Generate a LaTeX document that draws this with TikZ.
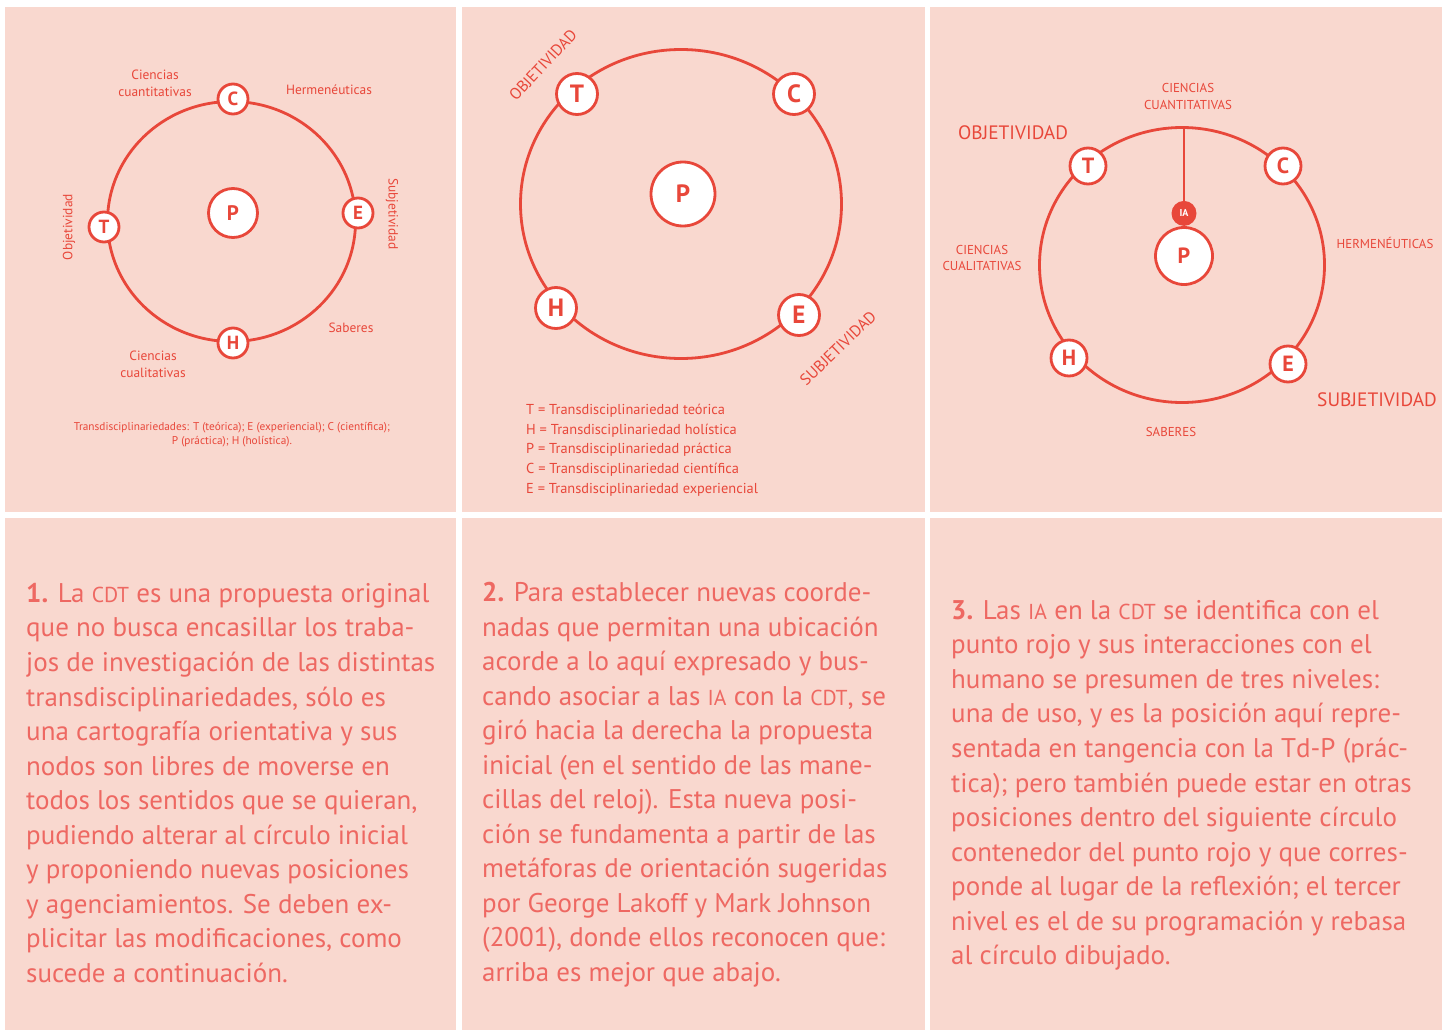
\documentclass[tikz,border=0pt]{standalone}
\usepackage{fontspec}
\setmainfont{PT Sans}
\usepackage{tikz}
\usetikzlibrary{shapes.geometric, positioning}
\definecolor{cdtred}{HTML}{E8473A}
\definecolor{cdttext}{HTML}{EE6862}
\definecolor{cdtbg}{HTML}{F9D8CF}
\newcommand\fs[2]{\fontsize{#1}{#2}\selectfont}
\newcommand\smcap[1]{\scalebox{0.8}{#1}}
\tikzset{
  panel/.style={fill=cdtbg, draw=none},
  aro/.style={ellipse, draw=cdtred, line width=2.8pt, inner sep=0pt},
  nodo/.style n args={2}{circle, draw=cdtred, line width=2.8pt, fill=white, text=cdtred,
    inner sep=0pt, minimum size=#1, font=\bfseries\fs{#2}{#2}},
  etiq/.style={text=cdtred, inner sep=0pt, align=center, font=\fs{#1}{1.25\dimexpr#1pt}},
  parrafo/.style={text=cdttext, inner sep=0pt, align=left, anchor=north west, font=\fs{27}{34.55}}
}

\begin{document}
\begin{tikzpicture}[x=1pt, y=-1pt]
\useasboundingbox[fill=white] (0,0) rectangle (1442,1030);
\foreach \xa/\xb in {5/456, 462/925, 930/1442}{
  \fill[panel] (\xa,7) rectangle (\xb,512);
  \fill[panel] (\xa,518) rectangle (\xb,1030);
}

\node[aro, minimum width=248, minimum height=240] (aro1) at (231.5,221.5) {};
\node[nodo={49}{21}] (p1) at (233,213) {P};
\node[nodo={30}{19}] (c1) at (233,99) {C};
\node[nodo={30}{19}] (e1) at (358,213) {E};
\node[nodo={30}{19}] (t1) at (104,227) {T};
\node[nodo={30}{19}] (h1) at (233,343) {H};
\node[etiq=13.4] (cuant1) at (155,83) {Ciencias\\cuantitativas};
\node[etiq=13.4] (herm1) at (329,90) {Hermenéuticas};
\node[etiq=13.4, rotate=90] (obj1) at (69,227) {Objetividad};
\node[etiq=13.4, rotate=-90] (subj1) at (392,214) {Subjetividad};
\node[etiq=13.4] (sab1) at (351,328) {Saberes};
\node[etiq=13.4] (cual1) at (153,364) {Ciencias\\cualitativas};
\node[etiq=11.3] (ley1) at (232,435) {Transdisciplinariedades: T (teórica); E (experiencial); C (científica);\\P (práctica); H (holística).};

\node[aro, minimum width=321, minimum height=309] (aro2) at (681,204) {};
\node[nodo={64}{25}] (p2) at (683,194) {P};
\node[nodo={41}{25}] (t2) at (577,94) {T};
\node[nodo={41}{25}] (c2) at (794,94) {C};
\node[nodo={41}{25}] (h2) at (556,308) {H};
\node[nodo={41}{25}] (e2) at (799,315) {E};
\node[etiq=16, rotate=47] (obj2) at (543,65) {OBJETIVIDAD};
\node[etiq=16, rotate=44] (subj2) at (838,348) {SUBJETIVIDAD};
\node[etiq=14.4, align=left, anchor=north west, font=\fs{14.4}{19.7}] (ley2) at (526,404)
  {T = Transdisciplinariedad teórica\\H = Transdisciplinariedad holística\\P = Transdisciplinariedad práctica\\
   C = Transdisciplinariedad científica\\E = Transdisciplinariedad experiencial};

\node[aro, minimum width=285, minimum height=275] (aro3) at (1182,265) {};
\node[nodo={57}{22}] (p3) at (1184,256) {P};
\node[circle, fill=cdtred, text=white, inner sep=0pt, minimum size=25, font=\bfseries\fs{10}{10}, above=0pt of p3] (ia) {IA};
\draw[cdtred, line width=2.8pt] (ia) -- (ia |- aro3.north);
\node[nodo={36}{22}] (t3) at (1088,166) {T};
\node[nodo={36}{22}] (c3) at (1283,166) {C};
\node[nodo={36}{22}] (h3) at (1069,358) {H};
\node[nodo={36}{22}] (e3) at (1288,364) {E};
\node[etiq=12.9] (cuant3) at (1188,96.5) {CIENCIAS\\CUANTITATIVAS};
\node[etiq=19.4] (obj3) at (1013,133) {OBJETIVIDAD};
\node[etiq=12.9] (cual3) at (982,258) {CIENCIAS\\CUALITATIVAS};
\node[etiq=12.9] (herm3) at (1385,243) {HERMENÉUTICAS};
\node[etiq=19.4] (subj3) at (1377,400) {SUBJETIVIDAD};
\node[etiq=12.9] (sab3) at (1171,432) {SABERES};

\node[parrafo] (txt1) at (26,583) {\textbf{1.} La \smcap{CDT} es una propuesta original\\que no busca encasillar los traba-\\
  jos de investigación de las distintas\\transdisciplinariedades, sólo es\\una cartografía orientativa y sus\\
  nodos son libres de moverse en\\todos los sentidos que se quieran,\\pudiendo alterar al círculo inicial\\
  y proponiendo nuevas posiciones\\y agenciamientos. Se deben ex-\\plicitar las modificaciones, como\\sucede a continuación.};
\node[parrafo] (txt2) at (482,582) {\textbf{2.} Para establecer nuevas coorde-\\nadas que permitan una ubicación\\
  acorde a lo aquí expresado y bus-\\cando asociar a las \smcap{IA} con la \smcap{CDT}, se\\giró hacia la derecha la propuesta\\
  inicial (en el sentido de las mane-\\cillas del reloj). Esta nueva posi-\\ción se fundamenta a partir de las\\
  metáforas de orientación sugeridas\\por George Lakoff y Mark Johnson\\(2001), donde ellos reconocen que:\\arriba es mejor que abajo.};
\node[parrafo] (txt3) at (951,600) {\textbf{3.} Las \smcap{IA} en la \smcap{CDT} se identifica con el\\punto rojo y sus interacciones con el\\
  humano se presumen de tres niveles:\\una de uso, y es la posición aquí repre-\\sentada en tangencia con la Td-P (prác-\\
  tica); pero también puede estar en otras\\posiciones dentro del siguiente círculo\\contenedor del punto rojo y que corres-\\
  ponde al lugar de la reflexión; el tercer\\nivel es el de su programación y rebasa\\al círculo dibujado.};
\end{tikzpicture}
\end{document}
